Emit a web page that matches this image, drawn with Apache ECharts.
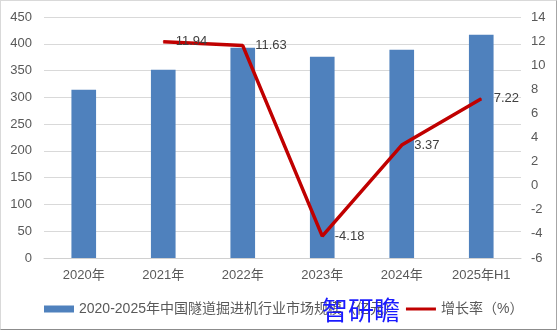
<!DOCTYPE html>
<html>
<head>
<meta charset="utf-8">
<script src="https://cdn.jsdelivr.net/npm/echarts@6/dist/echarts.min.js"></script>
<style>
html,body{margin:0;padding:0;background:#fff;}
#frame{position:absolute;left:0;top:0;width:555px;height:328px;border-top:1px solid #d9d9d9;border-left:1px solid #d9d9d9;border-right:1px solid #a6a6a6;border-bottom:1px solid #8c8c8c;}
#chart{position:absolute;left:0;top:0;width:559px;height:331px;}
</style>
</head>
<body>
<div id="frame"></div>
<div id="chart"></div>
<script>
const categories = ['2020年','2021年','2022年','2023年','2024年','2025年H1'];
const marketSize = [314, 351.5, 392.4, 376, 388.7, 416.8];
const growthRate = [null, 11.94, 11.63, -4.18, 3.37, 7.22];
const leftTicks = {min:0, max:450, interval:50};
const rightTicks = {min:-6, max:14, interval:2};
const barName = '2020-2025年中国隧道掘进机行业市场规模（亿元）';
const lineName = '增长率（%）';

const FONT = '"Liberation Sans", "Noto Sans CJK SC", sans-serif';
const chart = echarts.init(document.getElementById('chart'), null, {renderer:'canvas'});
chart.setOption({
  animation:false,
  textStyle:{fontFamily:FONT},
  grid:{left:44, right:38, top:17, bottom:73},
  legend:{
    left:39, top:297, itemGap:8,
    textStyle:{color:'#595959', fontSize:14, fontFamily:FONT},
    data:[
      {name:barName, icon:'rect', itemStyle:{color:'#4F81BD'}},
      {name:lineName, icon:'path://M0,0 L30,0 L30,3 L0,3 Z', itemStyle:{color:'#C00000'}}
    ],
    itemWidth:30, itemHeight:7
  },
  xAxis:{
    type:'category', data:categories,
    axisLine:{lineStyle:{color:'#d0d0d0', width:1}},
    axisTick:{show:false},
    axisLabel:{color:'#595959', fontSize:13, margin:11, fontFamily:FONT}
  },
  yAxis:[
    {type:'value', min:leftTicks.min, max:leftTicks.max, interval:leftTicks.interval,
     axisLine:{show:false}, axisTick:{show:false},
     splitLine:{lineStyle:{color:'#d9d9d9', width:1}},
     axisLabel:{color:'#595959', fontSize:13, margin:12, fontFamily:FONT}},
    {type:'value', min:rightTicks.min, max:rightTicks.max, interval:rightTicks.interval,
     position:'right',
     axisLine:{show:false}, axisTick:{show:false}, splitLine:{show:false},
     axisLabel:{color:'#595959', fontSize:13, margin:10, fontFamily:FONT}}
  ],
  series:[
    {name:barName, type:'bar', data:marketSize, barWidth:'31%',
     itemStyle:{color:'#4F81BD'}},
    {name:lineName, type:'line', yAxisIndex:1, data:growthRate,
     symbol:'circle', symbolSize:1, showSymbol:true,
     lineStyle:{color:'#C00000', width:3.5},
     itemStyle:{color:'#C00000'},
     label:{show:true, position:'right', distance:12, color:'#404040', fontSize:13, fontFamily:FONT}}
  ],
  graphic:[
    {type:'text', left:322, top:297, z:100,
     style:{text:'智研瞻', fill:'#1a1aff', font:'26px "Noto Sans CJK SC", sans-serif'}}
  ]
});
</script>
</body>
</html>
